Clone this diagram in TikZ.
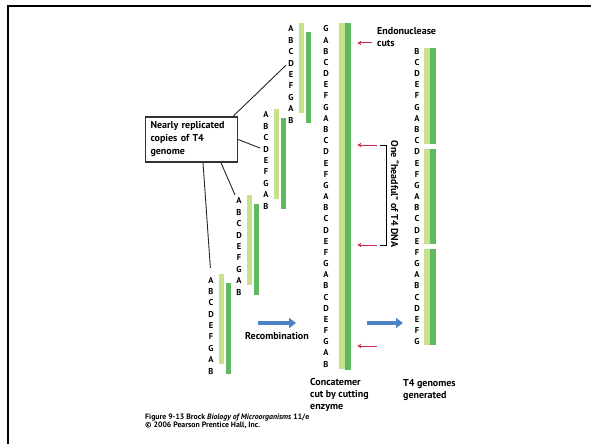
\documentclass[tikz,border=0pt]{standalone}
\usepackage{fontspec}
\setmainfont{PT Sans}
\usetikzlibrary{arrows.meta}
\definecolor{dnalight}{RGB}{198,224,140}
\definecolor{dnadark}{RGB}{96,184,96}
\definecolor{cutred}{RGB}{205,40,70}
\definecolor{recblue}{RGB}{79,129,199}

\begin{document}
\begin{tikzpicture}[x=1pt, y=-1pt,
    base/.style={font=\bfseries\fontsize{8.5}{9}\selectfont, inner sep=0pt},
    caption/.style={font=\bfseries\fontsize{10}{12}\selectfont, align=left, inner sep=0pt},
    cutarrow/.style={cutred, line width=1pt, -{Stealth[length=4pt, width=4.5pt]}},
    recarrow/.style={recblue, line width=3.5pt, -{Triangle[length=7pt, width=10pt]}},
    pointer/.style={black!85, line width=0.9pt, shorten >=3pt}
]
    \useasboundingbox (0,0) rectangle (591,444);

    % --- Rahmen ---
    \draw[line width=2.5pt] (8,444) -- (8,6) -- (591,6);

    % --- vier Kopien des Genoms ---
    \foreach \n/\sx/\sy in {1/291/29, 2/266/115, 3/239/201, 4/211/280} {
        \fill[dnalight] (\sx+7.5, \sy-6) rectangle (\sx+13, \sy+84);
        \fill[dnadark] (\sx+14.5, \sy+3) rectangle (\sx+20, \sy+94);
        \foreach \l [count=\i] in {A,B,C,D,E,F,G,A,B}
            \node[base] (s\n-\i) at (\sx, \sy+11.4*\i-11.4) {\l};
    }

    % --- Beschriftung mit Zeigerlinien ---
    \node[caption, draw=black!80, line width=1.3pt, text width=82pt, inner sep=5pt,
          minimum height=41pt, font=\bfseries\fontsize{10}{13}\selectfont]
        (copies) at (191.5,139.5) {Nearly replicated\\copies of T4\\genome};
    \draw[pointer] ([xshift=-5pt]copies.north east) -- (s1-4.west);
    \draw[pointer] (copies.east) -- (s2-4.west);
    \draw[pointer] ([xshift=29.5pt]copies.south) -- (s3-1.north west);
    \draw[pointer, shorten >=9pt] ([xshift=11.5pt]copies.south) -- (s4-1.north);

    % --- Konkatemer ---
    \fill[dnalight] (339,23) rectangle (345,369);
    \node[fill=dnadark, inner sep=0pt, minimum width=6pt, minimum height=347pt,
          anchor=north west] (cdark) at (345,23) {};
    \foreach \l [count=\i] in {G,A,B,C,D,E,F,G,A,B,C,D,E,F,G,A,B,C,D,E,F,G,A,B,C,D,E,F,G,A,B}
        \node[base] (c-\i) at (326, 17.83+11.17*\i) {\l};

    % Schnittstellen
    \coordinate (cut1) at (372,43);
    \coordinate (cut2) at (377,145);
    \coordinate (cut3) at (377,245);
    \coordinate (cut4) at (377,346);
    \foreach \k in {1,...,4}
        \draw[cutarrow, shorten >=6pt] (cut\k) -- (cut\k -| cdark.east);
    \node[caption, anchor=west] (endo) at (377,37.5) {Endonuclease\\cuts};

    % "headful"-Klammer
    \coordinate (hfTop) at (380,145);
    \coordinate (hfBot) at (380,245);
    \draw[line width=0.9pt] (hfTop) -- ++(6,0) |- (hfBot);
    \node[caption, rotate=-90] (headful) at (395,194) {One “headful” of T4 DNA};

    % --- erzeugte T4-Genome ---
    \foreach \n/\first/\letters in {1/3/{B,C,D,E,F,G,A,B,C}, 2/12/{D,E,F,G,A,B,C,D,E}, 3/21/{F,G,A,B,C,D,E,F,G}} {
        \fill[dnalight] (424, 14.63+11.17*\first) rectangle (430, 20.83+11.17*\first+89.36);
        \fill[dnadark] (430, 14.63+11.17*\first) rectangle (436, 20.83+11.17*\first+89.36);
        \foreach \l [count=\i from \first] in \letters
            \node[base] (g\n-\i) at (417, 17.83+11.17*\i) {\l};
    }

    % --- Pfeile und Unterschriften ---
    \coordinate (recA) at (258,323);
    \coordinate (recB) at (296,323);
    \coordinate (genA) at (367,323);
    \coordinate (genB) at (403,323);
    \draw[recarrow] (recA) -- (recB);
    \draw[recarrow] (genA) -- (genB);
    \node[caption] (recomb) at (277,336) {Recombination};
    \node[caption, anchor=west] (concat) at (310,395) {Concatemer\\cut by cutting\\enzyme};
    \node[caption, anchor=west] (t4gen) at (403,390) {T4 genomes\\generated};

    \node[caption, anchor=west, font=\bfseries\fontsize{7.8}{8}\selectfont] (figcap) at (145,421.5)
        {Figure 9-13 Brock \textit{Biology of Microorganisms} 11/e\\© 2006 Pearson Prentice Hall, Inc.};
\end{tikzpicture}
\end{document}
